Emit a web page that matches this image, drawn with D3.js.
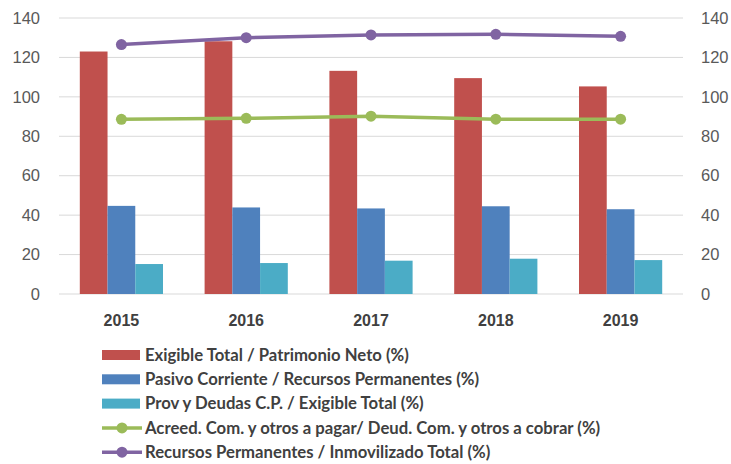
<!DOCTYPE html>
<html>
<head>
<meta charset="utf-8">
<script src="https://cdn.jsdelivr.net/npm/d3@7"></script>
<style>
  body { margin: 0; background: #fff; }
  svg { display: block; font-family: Lato, "Open Sans", "Liberation Sans", sans-serif; }
</style>
</head>
<body>
<div id="chart"></div>
<script>
// ── data ────────────────────────────────────────────────
const years = ['2015', '2016', '2017', '2018', '2019'];
const exigiblePatrimonio = [123.0, 128.2, 113.2, 109.5, 105.3];
const pasivoRecursos = [44.7, 43.9, 43.4, 44.5, 43.0];
const provExigible = [15.2, 15.7, 16.9, 17.9, 17.2];
const acreedDeud = [88.6, 89.1, 90.2, 88.7, 88.7];
const recursosInmov = [126.5, 130.0, 131.4, 131.7, 130.7];
const yTicks = [0, 20, 40, 60, 80, 100, 120, 140];

const barSeries = [
    { name: 'Exigible Total / Patrimonio Neto (%)', values: exigiblePatrimonio, color: '#c0504d' },
    { name: 'Pasivo Corriente / Recursos Permanentes (%)', values: pasivoRecursos, color: '#4f81bd' },
    { name: 'Prov y Deudas C.P. / Exigible Total (%)', values: provExigible, color: '#4bacc6' }
];
const lineSeries = [
    { name: 'Acreed. Com. y otros a pagar/ Deud. Com. y otros a cobrar (%)', values: acreedDeud, color: '#9bbb59' },
    { name: 'Recursos Permanentes / Inmovilizado Total (%)', values: recursosInmov, color: '#8064a2' }
];

const W = 731, H = 464;
const M = { left: 59, right: 48, top: 18, bottom: 170 };
const iW = W - M.left - M.right;
const iH = H - M.top - M.bottom;

const svg = d3.select('#chart').append('svg').attr('width', W).attr('height', H);
const g = svg.append('g').attr('transform', `translate(${M.left},${M.top})`);

const x = d3.scaleBand().domain(years).range([0, iW]).paddingInner(1 / 3).paddingOuter(1 / 6);
const x1 = d3.scaleBand().domain(d3.range(barSeries.length)).range([0, x.bandwidth()]);
const y = d3.scaleLinear().domain([0, 140]).range([iH, 0]);

// gridlines
g.append('g')
    .selectAll('line')
    .data(yTicks)
    .join('line')
    .attr('x1', 0).attr('x2', iW)
    .attr('y1', d => y(d)).attr('y2', d => y(d))
    .attr('stroke', '#d9d9d9').attr('stroke-width', 1);

// bars
barSeries.forEach((s, si) => {
    g.append('g')
        .selectAll('rect')
        .data(s.values)
        .join('rect')
        .attr('x', (d, i) => x(years[i]) + x1(si))
        .attr('y', d => y(d))
        .attr('width', x1.bandwidth())
        .attr('height', d => iH - y(d))
        .attr('fill', s.color);
});

// lines
const cx = i => x(years[i]) + x.bandwidth() / 2;
lineSeries.forEach(s => {
    const line = d3.line().x((d, i) => cx(i)).y(d => y(d));
    g.append('path')
        .datum(s.values)
        .attr('fill', 'none')
        .attr('stroke', s.color)
        .attr('stroke-width', 3.5)
        .attr('d', line);
    g.append('g')
        .selectAll('circle')
        .data(s.values)
        .join('circle')
        .attr('cx', (d, i) => cx(i))
        .attr('cy', d => y(d))
        .attr('r', 5.5)
        .attr('fill', s.color);
});

// axes
function styleAxis(sel) {
    sel.select('.domain').remove();
    sel.selectAll('.tick line').remove();
    sel.selectAll('.tick text').attr('fill', '#595959').attr('font-size', 16.5);
}

g.append('g')
    .call(d3.axisLeft(y).tickValues(yTicks).tickSize(0).tickPadding(19))
    .call(styleAxis);

g.append('g')
    .attr('transform', `translate(${iW},0)`)
    .call(d3.axisRight(y).tickValues(yTicks).tickSize(0).tickPadding(18))
    .call(styleAxis);

g.append('g')
    .attr('transform', `translate(0,${iH})`)
    .call(d3.axisBottom(x).tickSize(0).tickPadding(21))
    .call(styleAxis)
    .call(sel => sel.selectAll('.tick text').attr('font-weight', 'bold').attr('fill', '#404040').attr('font-size', 16));

// legend
const legend = svg.append('g').attr('transform', 'translate(102,355)');
const rowH = 24.3;
const allSeries = [...barSeries.map(s => ({ ...s, type: 'bar' })), ...lineSeries.map(s => ({ ...s, type: 'line' }))];
allSeries.forEach((s, i) => {
    const row = legend.append('g').attr('transform', `translate(0,${i * rowH})`);
    if (s.type === 'bar') {
        row.append('rect').attr('x', 0).attr('y', -5).attr('width', 38).attr('height', 10).attr('fill', s.color);
    } else {
        row.append('line').attr('x1', 0).attr('x2', 40).attr('y1', 0).attr('y2', 0)
            .attr('stroke', s.color).attr('stroke-width', 3.5);
        row.append('circle').attr('cx', 20).attr('cy', 0).attr('r', 5.5).attr('fill', s.color);
    }
    row.append('text')
        .attr('x', 43).attr('y', 0).attr('dy', '0.35em')
        .attr('font-size', 16.7).attr('font-weight', 'bold').attr('fill', '#404040')
        .text(s.name);
});
</script>
</body>
</html>
